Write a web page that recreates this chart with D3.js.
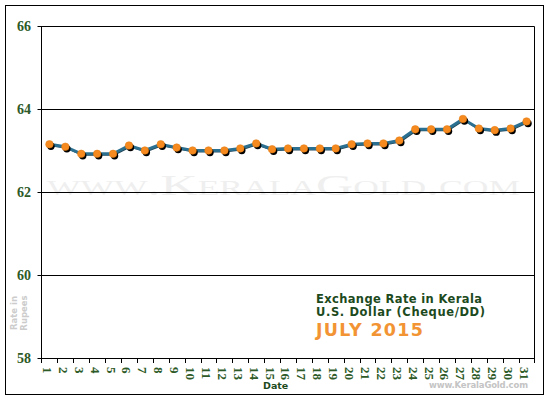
<!DOCTYPE html>
<html>
<head>
<meta charset="utf-8">
<script src="https://cdn.jsdelivr.net/npm/d3@7"></script>
<style>
  body { margin: 0; background: #fff; }
  svg { display: block; }
</style>
</head>
<body>
<svg width="550" height="400"></svg>
<script>
// days of July 2015 and the US dollar rate (Rs)
var days = d3.range(1, 32).map(String);
var rates = [63.15, 63.09, 62.92, 62.92, 62.92, 63.12, 63.00, 63.15, 63.07, 63.00,
             63.00, 63.00, 63.05, 63.17, 63.03, 63.05, 63.05, 63.05, 63.05, 63.15,
             63.17, 63.17, 63.24, 63.51, 63.51, 63.51, 63.76, 63.53, 63.49, 63.53,
             63.70];
var yTicks = [58, 60, 62, 64, 66];
var titleLines = ["Exchange Rate in Kerala", "U.S. Dollar (Cheque/DD)"];
var monthLabel = "JULY 2015";

var svg = d3.select("svg"),
    plotLeft = 41.5, plotRight = 534.5, plotTop = 26, plotBottom = 358;

var data = days.map(function (d, i) { return { day: d, rate: rates[i] }; });

var x = d3.scaleBand().domain(days).range([plotLeft, plotRight]);
var y = d3.scaleLinear().domain([58, 66]).range([plotBottom, plotTop]);

var green = "#2d5a27";

// outer frame
svg.append("rect")
    .attr("x", 5.5).attr("y", 5.5)
    .attr("width", 538).attr("height", 389)
    .attr("fill", "#fff")
    .attr("stroke", "#000");

// big faint watermark
svg.append("text")
    .attr("x", 47).attr("y", 195)
    .attr("textLength", 473)
    .attr("lengthAdjust", "spacingAndGlyphs")
    .style("font-family", "'Liberation Serif', serif")
    .style("font-size", "29px")
    .style("font-variant", "small-caps")
    .style("fill", "#efefef")
    .text("www.KeralaGold.com");

// grid lines
svg.append("g").selectAll("line")
    .data(yTicks)
  .enter().append("line")
    .attr("x1", plotLeft - 4).attr("x2", plotRight)
    .attr("y1", function (d) { return Math.round(y(d)) + 0.5; })
    .attr("y2", function (d) { return Math.round(y(d)) + 0.5; })
    .attr("stroke", "#000");

// right and left edges of the plot
svg.append("line")
    .attr("x1", plotRight).attr("x2", plotRight)
    .attr("y1", plotTop + 0.5).attr("y2", plotBottom + 0.5)
    .attr("stroke", "#000");
svg.append("line")
    .attr("x1", plotLeft).attr("x2", plotLeft)
    .attr("y1", plotTop + 0.5).attr("y2", plotBottom + 5)
    .attr("stroke", "#000");

// x ticks on band edges
svg.append("g").selectAll("line")
    .data(days)
  .enter().append("line")
    .attr("x1", function (d) { return Math.round(x(d) + x.bandwidth()) + 0.5; })
    .attr("x2", function (d) { return Math.round(x(d) + x.bandwidth()) + 0.5; })
    .attr("y1", plotBottom).attr("y2", plotBottom + 5)
    .attr("stroke", "#000");

// y tick labels
svg.append("g").selectAll("text")
    .data(yTicks)
  .enter().append("text")
    .attr("x", 31)
    .attr("y", function (d) { return y(d); })
    .attr("dy", "0.35em")
    .attr("text-anchor", "end")
    .style("font-family", "'Liberation Serif', serif")
    .style("font-weight", "bold")
    .style("font-size", "14px")
    .style("fill", green)
    .text(function (d) { return d; });

// x tick labels, turned
svg.append("g").selectAll("text")
    .data(days)
  .enter().append("text")
    .attr("transform", function (d) {
      return "translate(" + (x(d) + x.bandwidth() / 2 - 2) + ",367) rotate(90)";
    })
    .attr("dy", "0.35em")
    .style("font-family", "'Liberation Serif', serif")
    .style("font-weight", "bold")
    .style("font-size", "13px")
    .style("fill", green)
    .text(function (d) { return d; });

// axis titles
svg.append("text")
    .attr("x", 263).attr("y", 389)
    .style("font-family", "'DejaVu Sans', Verdana, sans-serif")
    .style("font-weight", "bold")
    .style("font-size", "9.5px")
    .style("fill", "#1d4a1d")
    .text("Date");

svg.append("g")
    .attr("transform", "translate(19,313) rotate(-90)")
  .selectAll("text")
    .data(["Rate in", "Rupees"])
  .enter().append("text")
    .attr("y", function (d, i) { return i * 10 - 2; })
    .attr("text-anchor", "middle")
    .style("font-family", "'DejaVu Sans', Verdana, sans-serif")
    .style("font-weight", "bold")
    .style("font-size", "8.5px")
    .style("fill", "#cccccc")
    .text(function (d) { return d; });

// small site mark
svg.append("text")
    .attr("x", 429).attr("y", 388)
    .attr("textLength", 99)
    .style("font-family", "'DejaVu Sans', Verdana, sans-serif")
    .style("font-weight", "bold")
    .style("font-size", "8.5px")
    .style("fill", "#c4c4c4")
    .text("www.KeralaGold.com");

// legend block
var lineWidths = [166, 169];
svg.append("g").selectAll("text")
    .data(titleLines)
  .enter().append("text")
    .attr("x", 316)
    .attr("y", function (d, i) { return 303 + i * 13; })
    .attr("textLength", function (d, i) { return lineWidths[i]; })
    .style("font-family", "'DejaVu Sans', Verdana, sans-serif")
    .style("font-weight", "bold")
    .style("font-size", "11.5px")
    .style("fill", "#1d4a1d")
    .text(function (d) { return d; });

svg.append("text")
    .attr("x", 316).attr("y", 336)
    .attr("textLength", 107)
    .style("font-family", "'DejaVu Sans', Verdana, sans-serif")
    .style("font-weight", "bold")
    .style("font-size", "17.5px")
    .style("fill", "#f29434")
    .text(monthLabel);

// the series
var line = d3.line()
    .x(function (d) { return x(d.day) + x.bandwidth() / 2; })
    .y(function (d) { return y(d.rate); });

svg.append("path")
    .datum(data)
    .attr("transform", "translate(1,1)")
    .attr("fill", "none")
    .attr("stroke", "#24495a")
    .attr("stroke-width", 2)
    .attr("d", line);

svg.append("path")
    .datum(data)
    .attr("fill", "none")
    .attr("stroke", "#2b7090")
    .attr("stroke-width", 3)
    .attr("d", line);

// shadows under the markers
svg.append("g").selectAll("circle")
    .data(data)
  .enter().append("circle")
    .attr("cx", function (d) { return x(d.day) + x.bandwidth() / 2 + 1.5; })
    .attr("cy", function (d) { return y(d.rate) + 2; })
    .attr("r", 3.7)
    .attr("fill", "#000");

svg.append("g").selectAll("circle")
    .data(data)
  .enter().append("circle")
    .attr("cx", function (d) { return x(d.day) + x.bandwidth() / 2; })
    .attr("cy", function (d) { return y(d.rate); })
    .attr("r", 3.8)
    .attr("fill", "#f68a1f")
    .attr("stroke", "#e07a10")
    .attr("stroke-width", 0.5);
</script>
</body>
</html>
